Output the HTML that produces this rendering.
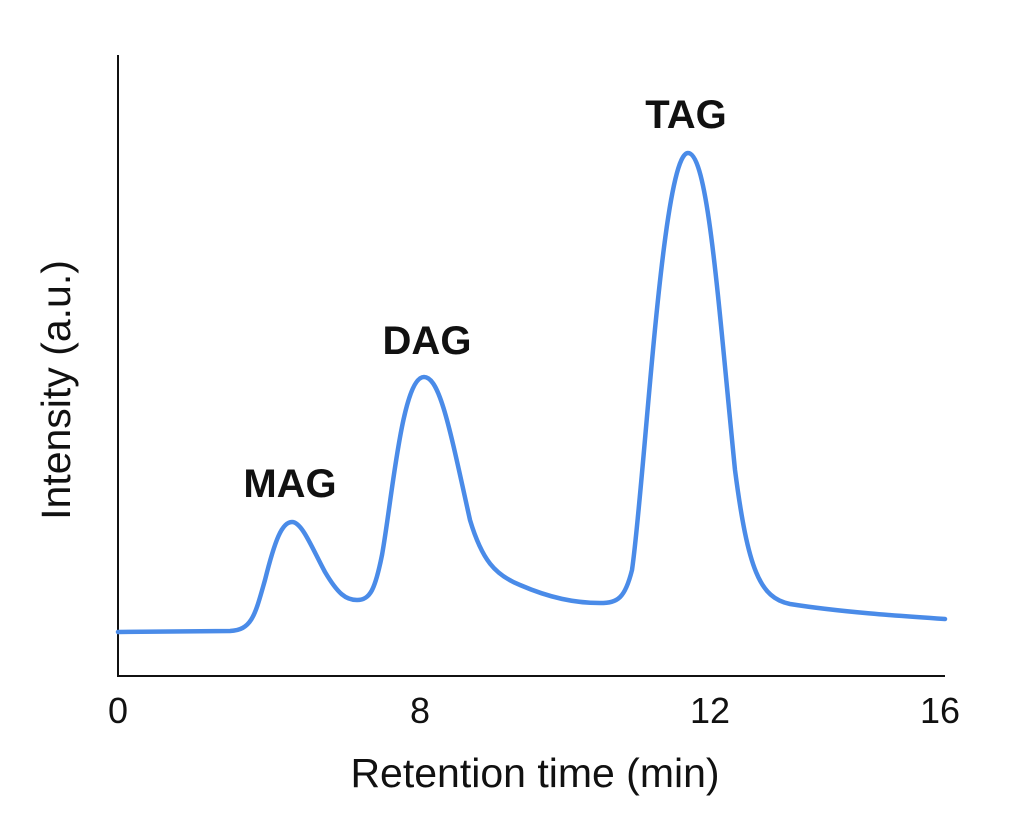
<!DOCTYPE html>
<html><head><style>body{margin:0;background:#fff}</style></head><body>
<svg width="1024" height="827" xmlns="http://www.w3.org/2000/svg">
<rect width="1024" height="827" fill="#fff"/>
<path d="M118,55 L118,676 L945,676" fill="none" stroke="#111" stroke-width="2"/>
<path d="M118,632 L230,631 C252,630 255,615 265,580 C275,540 282,522 292,522 C302,522 312,548 325,572 C338,594 346,600 357,600 C370,600 375,590 382,555 C392,500 402,377 424,377 C440,377 450,430 470,520 C482,560 495,575 520,585 C550,598 575,603 600,603 C618,603 625,598 632,570 C645,480 662,153 688,153 C708,153 718,300 735,470 C748,570 760,598 790,604 C840,612 900,616 945,619" fill="none" stroke="#4a8be8" stroke-width="4.5" stroke-linejoin="round" stroke-linecap="round"/>
<g font-family="Liberation Sans, sans-serif" font-weight="bold" font-size="40" fill="#111" text-anchor="middle">
<text x="290" y="497">MAG</text>
<text x="427" y="354">DAG</text>
<text x="686" y="128">TAG</text>
</g>
<g font-family="Liberation Sans, sans-serif" font-size="36" fill="#111" text-anchor="middle">
<text x="118" y="723">0</text>
<text x="420" y="723">8</text>
<text x="710" y="723">12</text>
<text x="940" y="723">16</text>
</g>
<g font-family="Liberation Sans, sans-serif" font-size="41" fill="#111" text-anchor="middle">
<text x="535" y="787">Retention time (min)</text>
<text transform="translate(70,390) rotate(-90)">Intensity (a.u.)</text>
</g>
</svg>
</body></html>
